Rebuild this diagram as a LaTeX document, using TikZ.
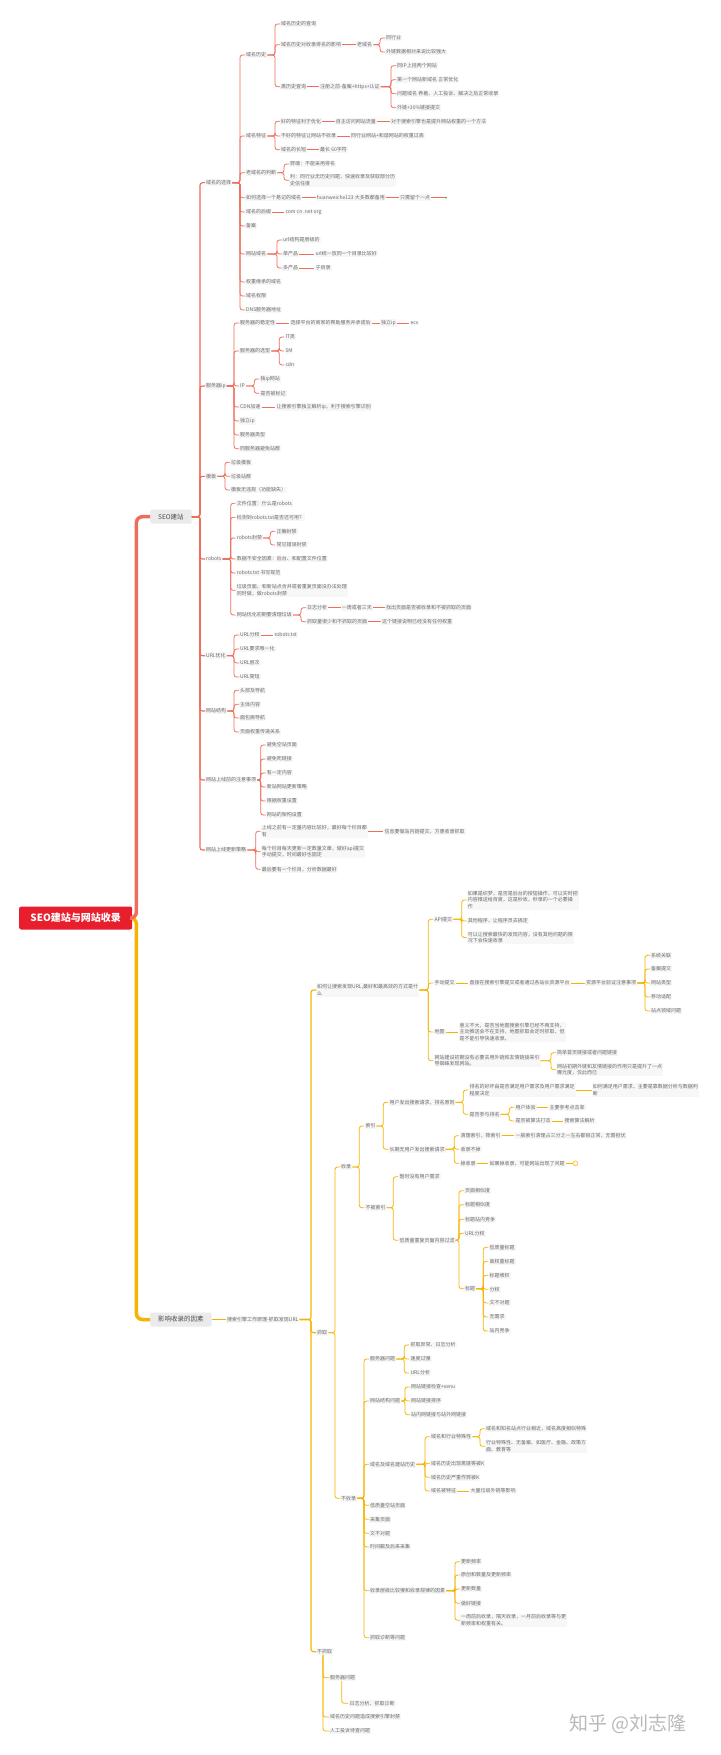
\documentclass[tikz,border=0pt]{standalone}
\usepackage{fontspec}
\newfontfamily\cjk{Noto Sans CJK SC}
\usepackage{tikz}
\definecolor{redl}{RGB}{240,108,92}
\definecolor{yell}{RGB}{246,180,0}
\definecolor{rootred}{RGB}{232,30,45}
\definecolor{txtc}{RGB}{105,105,105}
\newcommand\kids[3][rl]{\foreach \kid in {#3}{\draw[#1] (#2.east) -| ([xshift=-5pt]\kid.west) -- (\kid.west);}}
\newcommand\chain[3][rl]{\draw[#1] (#2.east) -- (#3.west);}

\begin{document}
\begin{tikzpicture}[x=1pt, y=-1pt,
  txt/.style={anchor=west, inner sep=1pt, fill=gray!6, text=txtc, align=left, font=\cjk\fontsize{5}{6.7}\selectfont},
  lvone/.style={anchor=west, fill=gray!16, text=black!70, rounded corners=2pt, inner xsep=8pt, inner ysep=4pt, font=\cjk\fontsize{6.5}{7}\selectfont},
  rootbox/.style={anchor=west, fill=rootred, text=white, rounded corners=2pt, minimum width=113pt, minimum height=23pt, font=\cjk\bfseries\fontsize{10}{12}\selectfont},
  rl/.style={draw=redl, line width=0.8pt, rounded corners=2.5pt},
  yl/.style={draw=yell, line width=0.8pt, rounded corners=2.5pt}]

\fill[white] (0,0) rectangle (720,1755);
\useasboundingbox (0,0) rectangle (720,1755);

\node[rootbox] (root) at (19,918) {SEO建站与网站收录};
\node[lvone] (seo) at (150,516.7) {SEO建站};
\node[lvone] (yx) at (150,1319.5) {影响收录的因素};

% SEO建站
\node[txt] (s1) at (205,182.7) {域名的选择};
\node[txt] (s2) at (205,386) {服务器ip};
\node[txt] (s3) at (205,476.3) {模板};
\node[txt] (s4) at (205,559) {robots};
\node[txt] (s5) at (205,655.7) {URL优化};
\node[txt] (s6) at (205,711) {网站结构};
\node[txt] (s7) at (205,780) {网站上线前的注意事项};
\node[txt] (s8) at (205,850) {网站上线更新策略};

\node[txt] (s1a) at (245,55) {域名历史};
\node[txt] (s1b) at (245,136) {域名特征};
\node[txt] (s1c) at (245,172.7) {老域名的判断};
\node[txt] (s1d) at (245,197.7) {如何选择一个易记的域名};
\node[txt] (s1e) at (245,212) {域名的后缀};
\node[txt] (s1f) at (245,226) {备案};
\node[txt] (s1g) at (245,254) {网站域名};
\node[txt] (s1h) at (245,282) {权重继承的域名};
\node[txt] (s1i) at (245,296) {域名权限};
\node[txt] (s1j) at (245,310) {DNS服务器地址};

\node[txt] (s1a1) at (280,24) {域名历史的查询};
\node[txt] (s1a2) at (280,44.7) {域名历史对收录排名的影响};
\node[txt] (s1a3) at (280,86.7) {黑历史查询};
\node[txt] (s1a2a) at (356,44.7) {老域名};
\node[txt] (s1a2b) at (385,38) {同行业};
\node[txt] (s1a2c) at (385,52) {外链数据相对来说比较强大};
\node[txt] (s1a3a) at (319,86.7) {注册之前-备案+https+认证};
\node[txt] (s1a3b) at (396,65.7) {同IP上挂两个网站};
\node[txt] (s1a3c) at (396,79.7) {第一个网站新域名 正常优化};
\node[txt] (s1a3d) at (396,93.7) {问题域名 养着、人工投诉、解决之后正常收录};
\node[txt] (s1a3e) at (396,107.7) {外链+30\%链接提交};

\node[txt] (s1b1) at (280,121.3) {好的特征利于优化};
\node[txt] (s1b1a) at (334.7,121.3) {自主访问网站流量};
\node[txt] (s1b1b) at (390,121.3) {对于搜索引擎也是提升网站权重的一个方法};
\node[txt] (s1b2) at (280,136) {不好的特征让网站不收录};
\node[txt] (s1b2a) at (350,136) {同行业网站+和谐网站的权重过高};
\node[txt] (s1b3) at (280,149.7) {域名的长短};
\node[txt] (s1b3a) at (319,149.7) {最长 60字符};

\node[txt] (s1c1) at (289,164) {弊端：不能采用排名};
\node[txt] (s1c2) at (289,180.3) {利：同行业无历史问题，快速收录及获取部分历\\史信任度};

\node[txt] (s1d1) at (315.7,197.7) {huanweiche123 大多数都备用};
\node[txt] (s1d2) at (399,197.7) {只需留个一点};
\node[circle, anchor=west, fill=green!50!black, inner sep=0pt, minimum size=1.6pt] (s1d3) at (445,197.7) {};
\node[txt] (s1e1) at (284.3,212) {com cn .net org};
\node[txt] (s1g1) at (282,240) {url结构是层级的};
\node[txt] (s1g2) at (282,254) {单产品};
\node[txt] (s1g3) at (282,268) {多产品};
\node[txt] (s1g2a) at (314.3,254) {url统一放同一个目录比较好};
\node[txt] (s1g3a) at (314.3,268) {子目录};

\node[txt] (s2a) at (239,323) {服务器的稳定性};
\node[txt] (s2a1) at (289.3,323) {选择平台的商家的帮助服务并承诺后};
\node[txt] (s2a2) at (380,323) {独立ip};
\node[txt] (s2a3) at (409.3,323) {ecs};
\node[txt] (s2b) at (239,351) {服务器的选型};
\node[txt] (s2b1) at (284.3,337) {IT类};
\node[txt] (s2b2) at (284.3,351) {5M};
\node[txt] (s2b3) at (284.3,365) {cdn};
\node[txt] (s2c) at (239,386) {IP};
\node[txt] (s2c1) at (259.3,379) {独ip网站};
\node[txt] (s2c2) at (259.3,393.3) {是否被标记};
\node[txt] (s2d) at (239,407) {CDN加速};
\node[txt] (s2d1) at (275.3,407) {让搜索引擎独立解析ip，利于搜索引擎识别};
\node[txt] (s2e) at (239,421) {独立ip};
\node[txt] (s2f) at (239,435) {服务器类型};
\node[txt] (s2g) at (239,448.7) {同服务器避免站群};

\node[txt] (s3a) at (230,462.3) {垃圾模板};
\node[txt] (s3b) at (230,476.3) {垃圾站群};
\node[txt] (s3c) at (230,490) {模板无违规（功能缺失）};

\node[txt] (s4a) at (235.7,503.3) {文件位置：什么是robots};
\node[txt] (s4b) at (235.7,517.3) {检测到robots.txt是否还可用？};
\node[txt] (s4c) at (235.7,538) {robots封禁};
\node[txt] (s4c1) at (275.3,531.3) {正确封禁};
\node[txt] (s4c2) at (275.3,545) {常见错误封禁};
\node[txt] (s4d) at (235.7,559) {数据不安全因素：后台、和配置文件位置};
\node[txt] (s4e) at (235.7,573) {robots.txt 书写规范};
\node[txt] (s4f) at (235.7,590.3) {垃圾页面、和新站点合并或者重复页面没办法处理\\同时做，做robots封禁};
\node[txt] (s4g) at (235.7,615) {网站优化初期要清理垃圾};
\node[txt] (s4g1) at (306,607.7) {日志分析};
\node[txt] (s4g1a) at (340.7,607.7) {一周或者三天};
\node[txt] (s4g1b) at (385,607.7) {找出页面是否被收录和不被抓取的页面};
\node[txt] (s4g2) at (306,621.7) {抓取量很少和不抓取的页面};
\node[txt] (s4g2a) at (381,621.7) {这个链接说明已经没有任何权重};

\node[txt] (s5a) at (239,635) {URL分权};
\node[txt] (s5a1) at (273.3,635) {robots.txt};
\node[txt] (s5b) at (239,649) {URL要求唯一化};
\node[txt] (s5c) at (239,663) {URL层次};
\node[txt] (s5d) at (239,677) {URL简短};

\node[txt] (s6a) at (239,690.3) {头部及导航};
\node[txt] (s6b) at (239,704.3) {主体内容};
\node[txt] (s6c) at (239,718) {面包屑导航};
\node[txt] (s6d) at (239,732) {页面权重传递关系};

\node[txt] (s7a) at (265.7,745) {避免空站页面};
\node[txt] (s7b) at (265.7,759) {避免死链接};
\node[txt] (s7c) at (265.7,773) {有一定内容};
\node[txt] (s7d) at (265.7,787) {新站网站更新策略};
\node[txt] (s7e) at (265.7,801) {根据权重设置};
\node[txt] (s7f) at (265.7,815) {网站的架构设置};

\node[txt] (s8a) at (260.7,831.3) {上线之前有一定量内容比较好，最好每个栏目都\\有};
\node[txt] (s8a1) at (383.3,831.3) {信息要做站内链提交、方便收录抓取};
\node[txt] (s8b) at (260.7,851.7) {每个栏目每天更新一定数量文章，做好api提交\\手动提交，时间最好也固定};
\node[txt] (s8c) at (260.7,869.3) {最后要有一个栏目，分析数据最好};

% 影响收录的因素
\node[txt] (yy) at (226,1319.5) {搜索引擎工作原理-抓取发现URL};
\node[txt] (y1) at (316,990) {如何让搜索发现URL,最好和最高效的方式是什\\么};
\node[txt] (y2) at (316,1332.7) {抓取};
\node[txt] (y3) at (316,1651.7) {不抓取};

\node[txt] (y1a) at (433.3,919.3) {API提交};
\node[txt] (y1a1) at (466.7,900) {如果是织梦，是否是后台的按钮操作，可以实时把\\内容推送给百度，这是秒收，秒录的一个必要操\\作};
\node[txt] (y1a2) at (466.7,921) {其他程序，让程序员去搞定};
\node[txt] (y1a3) at (466.7,937.5) {可以让搜索最快的发现内容，没有其他问题的情\\况下会快速收录};
\node[txt] (y1b) at (433.3,983) {手动提交};
\node[txt] (y1b1) at (468.3,983) {直接在搜索引擎提交或者通过各站长资源平台};
\node[txt] (y1b2) at (585,983) {资源平台验证注意事项};
\node[txt] (y1b2a) at (650,955.3) {系统关联};
\node[txt] (y1b2b) at (650,969) {备案提交};
\node[txt] (y1b2c) at (650,983) {网站类型};
\node[txt] (y1b2d) at (650,997) {移动适配};
\node[txt] (y1b2e) at (650,1011) {站点领域问题};
\node[txt] (y1c) at (433.3,1032) {地图};
\node[txt] (y1c1) at (458.3,1032) {意义不大，是否当地图搜索引擎已经不再支持，\\主动推送会不在支持，地图抓取会定时抓取，但\\是不能引导快速收录。};
\node[txt] (y1d) at (433.3,1060.7) {网站建设初期没有必要去用外链和友情链接来引\\导蜘蛛发现网站。};
\node[txt] (y1d1) at (556,1052.7) {简单首页链接或者问题链接};
\node[txt] (y1d2) at (556,1069.7) {网站初期外链和友情链接的作用只是提升了一点\\曝光度，仅此而已};

\node[txt] (y2a) at (340,1167) {收录};
\node[txt] (y2b) at (340,1498.3) {不收录};
\node[txt] (y2a1) at (364.3,1126) {索引};
\node[txt] (y2a2) at (364.3,1207.7) {不被索引};

\node[txt] (u1) at (388.3,1102.3) {用户发出搜索请求，排名原则};
\node[txt] (u2) at (388.3,1149.3) {长期无用户发出搜索请求};
\node[txt] (u1a) at (468.3,1090) {排名的好坏由是否满足用户需求及用户需求满足\\程度决定};
\node[txt] (u1a1) at (591.7,1090) {如何满足用户需求，主要是靠数据分析与数据判\\断};
\node[txt] (u1b) at (468.3,1114.3) {是否参与排名};
\node[txt] (u1b1) at (514.3,1107.3) {用户体验};
\node[txt] (u1b1a) at (548.3,1107.3) {主要参考点击率};
\node[txt] (u1b2) at (514.3,1121) {是否被算法打击};
\node[txt] (u1b2a) at (563.3,1121) {搜索算法解析};
\node[txt] (u2a) at (459.3,1135.7) {清理索引，降索引};
\node[txt] (u2a1) at (514.3,1135.7) {一般索引清理占三分之一左右都很正常，无需担忧};
\node[txt] (u2b) at (459.3,1149.3) {收录不掉};
\node[txt] (u2c) at (459.3,1163.3) {掉收录};
\node[txt] (u2c1) at (488.3,1163.3) {如果掉收录，可能网站出现了问题};
\node[circle, anchor=west, draw=yell, fill=yell!15, inner sep=0pt, minimum size=5pt] (u2c2) at (572.7,1163.3) {};

\node[txt] (v1) at (398.3,1176.7) {暂时没有用户需求};
\node[txt] (v2) at (398.3,1240.3) {低质量重复页面内容过滤};
\node[txt] (v2a) at (464,1190.7) {页面相似度};
\node[txt] (v2b) at (464,1204.7) {标题相似度};
\node[txt] (v2c) at (464,1219.3) {标题站内竞争};
\node[txt] (v2d) at (464,1233.3) {URL分权};
\node[txt] (v2e) at (464,1288.7) {标题};
\node[txt] (v2e1) at (488.3,1247.3) {低质量标题};
\node[txt] (v2e2) at (488.3,1261.3) {高权重标题};
\node[txt] (v2e3) at (488.3,1275.3) {标题堆积};
\node[txt] (v2e4) at (488.3,1289.3) {分权};
\node[txt] (v2e5) at (488.3,1303) {文不对题};
\node[txt] (v2e6) at (488.3,1317) {无需求};
\node[txt] (v2e7) at (488.3,1331) {站内竞争};

\node[txt] (n1) at (369,1359) {服务器问题};
\node[txt] (n1a) at (409.3,1345) {抓取异常、日志分析};
\node[txt] (n1b) at (409.3,1359) {速度过慢};
\node[txt] (n1c) at (409.3,1373) {URL分析};
\node[txt] (n2) at (369,1401) {网站结构问题};
\node[txt] (n2a) at (410,1387) {网站链接检查+xenu};
\node[txt] (n2b) at (410,1401) {网站链接排序};
\node[txt] (n2c) at (410,1414.7) {站内网链接与站外网链接};
\node[txt] (n3) at (369,1464.3) {域名及域名建站历史};
\node[txt] (n3a) at (430,1436.7) {域名和行业特殊性};
\node[txt] (n3a1) at (485,1428.7) {域名和知名站点行业相近，域名高度相似特殊};
\node[txt] (n3a2) at (485,1446.3) {行业特殊性、无备案、如医疗、金融、政策方\\面、教育等};
\node[txt] (n3b) at (430,1463.3) {域名历史出现黑链等被K};
\node[txt] (n3c) at (430,1477.3) {域名历史严重作弊被K};
\node[txt] (n3d) at (430,1491) {域名被特征};
\node[txt] (n3d1) at (469.3,1491) {大量垃圾外链等影响};
\node[txt] (n4) at (369,1505.3) {低质量空站页面};
\node[txt] (n5) at (369,1519.3) {采集页面};
\node[txt] (n6) at (369,1533.3) {文不对题};
\node[txt] (n7) at (369,1547) {时间戳及后来采集};
\node[txt] (n8) at (369,1590.7) {收录层级比较慢和收录规律的因素};
\node[txt] (n8a) at (460,1561.7) {更新频率};
\node[txt] (n8b) at (460,1575) {原创和数量及更新频率};
\node[txt] (n8c) at (460,1589) {更新数量};
\node[txt] (n8d) at (460,1603.3) {做好链接};
\node[txt] (n8e) at (460,1620.3) {一周前后收录，隔天收录，一月前后收录等与更\\新频率和权重有关。};
\node[txt] (n9) at (369,1637.7) {抓取诊断等问题};

\node[txt] (m1) at (329,1677.7) {服务器问题};
\node[txt] (m1a) at (348.3,1703.3) {日志分析、抓取诊断};
\node[txt] (m2) at (329,1717) {域名历史问题造成搜索引擎封禁};
\node[txt] (m3) at (329,1731) {人工投诉待查问题};

\node[anchor=west, font=\cjk\fontsize{19}{20}\selectfont, text=gray!55] (wm) at (566,1724) {知乎 @刘志隆};

% trunk
\draw[yell, line width=3.5pt, rounded corners=6pt] (root.east) -- ++(4,0) |- (yx.west);
\draw[redl, line width=3.5pt, rounded corners=6pt] (root.east) -- ++(4,0) |- (seo.west);

% red connectors
\kids[rl, line width=1.1pt]{seo}{s1,s2,s3,s4,s5,s6,s7,s8}
\kids{s1}{s1a,s1b,s1c,s1d,s1e,s1f,s1g,s1h,s1i,s1j}
\kids{s1a}{s1a1,s1a2,s1a3}
\chain{s1a2}{s1a2a}
\kids{s1a2a}{s1a2b,s1a2c}
\chain{s1a3}{s1a3a}
\kids{s1a3a}{s1a3b,s1a3c,s1a3d,s1a3e}
\kids{s1b}{s1b1,s1b2,s1b3}
\chain{s1b1}{s1b1a}
\chain{s1b1a}{s1b1b}
\chain{s1b2}{s1b2a}
\chain{s1b3}{s1b3a}
\kids{s1c}{s1c1,s1c2}
\chain{s1d}{s1d1}
\chain{s1d1}{s1d2}
\chain{s1d2}{s1d3}
\chain{s1e}{s1e1}
\kids{s1g}{s1g1,s1g2,s1g3}
\chain{s1g2}{s1g2a}
\chain{s1g3}{s1g3a}
\kids{s2}{s2a,s2b,s2c,s2d,s2e,s2f,s2g}
\chain{s2a}{s2a1}
\chain{s2a1}{s2a2}
\chain{s2a2}{s2a3}
\kids{s2b}{s2b1,s2b2,s2b3}
\kids{s2c}{s2c1,s2c2}
\chain{s2d}{s2d1}
\kids{s3}{s3a,s3b,s3c}
\kids{s4}{s4a,s4b,s4c,s4d,s4e,s4f,s4g}
\kids{s4c}{s4c1,s4c2}
\kids{s4g}{s4g1,s4g2}
\chain{s4g1}{s4g1a}
\chain{s4g1a}{s4g1b}
\chain{s4g2}{s4g2a}
\kids{s5}{s5a,s5b,s5c,s5d}
\chain{s5a}{s5a1}
\kids{s6}{s6a,s6b,s6c,s6d}
\kids{s7}{s7a,s7b,s7c,s7d,s7e,s7f}
\kids{s8}{s8a,s8b,s8c}
\chain{s8a}{s8a1}

% yellow connectors
\chain[yl, line width=1.1pt]{yx}{yy}
\kids[yl, line width=1.1pt]{yy}{y1,y2,y3}
\kids[yl]{y1}{y1a,y1b,y1c,y1d}
\kids[yl]{y1a}{y1a1,y1a2,y1a3}
\chain[yl]{y1b}{y1b1}
\chain[yl]{y1b1}{y1b2}
\kids[yl]{y1b2}{y1b2a,y1b2b,y1b2c,y1b2d,y1b2e}
\chain[yl]{y1c}{y1c1}
\kids[yl]{y1d}{y1d1,y1d2}
\kids[yl]{y2}{y2a,y2b}
\kids[yl]{y2a}{y2a1,y2a2}
\kids[yl]{y2a1}{u1,u2}
\kids[yl]{u1}{u1a,u1b}
\chain[yl]{u1a}{u1a1}
\kids[yl]{u1b}{u1b1,u1b2}
\chain[yl]{u1b1}{u1b1a}
\chain[yl]{u1b2}{u1b2a}
\kids[yl]{u2}{u2a,u2b,u2c}
\chain[yl]{u2a}{u2a1}
\chain[yl]{u2c}{u2c1}
\chain[yl]{u2c1}{u2c2}
\kids[yl]{y2a2}{v1,v2}
\kids[yl]{v2}{v2a,v2b,v2c,v2d,v2e}
\kids[yl]{v2e}{v2e1,v2e2,v2e3,v2e4,v2e5,v2e6,v2e7}
\kids[yl]{y2b}{n1,n2,n3,n4,n5,n6,n7,n8,n9}
\kids[yl]{n1}{n1a,n1b,n1c}
\kids[yl]{n2}{n2a,n2b,n2c}
\kids[yl]{n3}{n3a,n3b,n3c,n3d}
\kids[yl]{n3a}{n3a1,n3a2}
\chain[yl]{n3d}{n3d1}
\kids[yl]{n8}{n8a,n8b,n8c,n8d,n8e}
\foreach \kid in {m1,m2,m3} {\draw[yl] ([xshift=7pt]y3.south west) |- (\kid.west);}
\draw[yl] ([xshift=12.7pt]m1.south west) |- (m1a.west);
\end{tikzpicture}
\end{document}
